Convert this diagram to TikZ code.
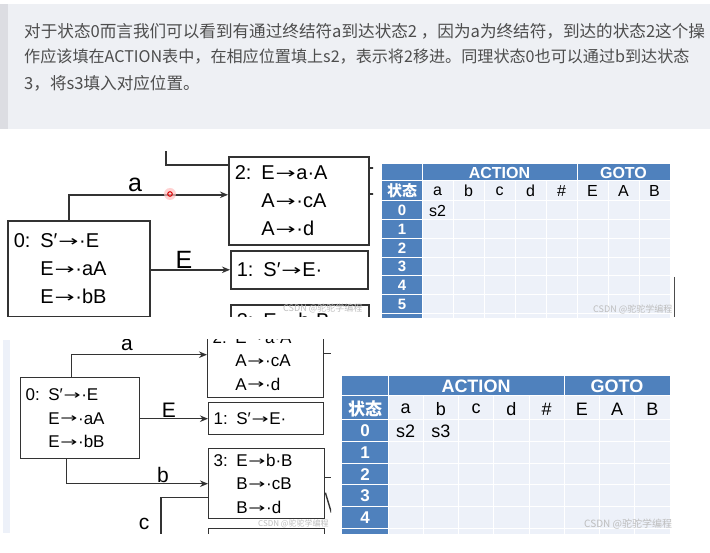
\documentclass[tikz,border=0pt]{standalone}
\usepackage{fontspec}
\setmainfont{Liberation Sans}
\newfontfamily\cjk{Noto Sans CJK SC}
\newfontfamily\arrowfont{DejaVu Sans}
\usepackage{xcolor}
\usetikzlibrary{arrows.meta, positioning}

\definecolor{pagebg}{HTML}{EEF0F4}
\definecolor{quotebar}{HTML}{DCDDE2}
\definecolor{bodytext}{HTML}{4D4D4D}
\definecolor{tblue}{HTML}{4F81BD}
\definecolor{tcell}{HTML}{EDF1F9}
\definecolor{wmark}{HTML}{BDBDBD}
\definecolor{lineclr}{HTML}{333333}

% production arrow, long with a small head
\newcommand\goesto{\kern0.04em\raisebox{0.07em}{\scalebox{1.2}[0.75]{\arrowfont →}}\kern0.04em}

\begin{document}
\begin{tikzpicture}[
    x=1pt, y=-1pt,
    itemset/.style={
        draw=lineclr, rectangle, anchor=north west,
        align=left, inner ysep=0pt
    },
    bigset/.style={itemset, line width=1.6pt, inner xsep=6pt,
        font=\fontsize{20}{28}\selectfont},
    smallset/.style={itemset, line width=1.4pt, inner xsep=5pt,
        font=\fontsize{17}{23.5}\selectfont},
    arrow/.style={draw=lineclr, -{Stealth[length=8pt, width=6.5pt]}},
    link/.style={draw=lineclr},
    biglabel/.style={inner sep=0pt, font=\fontsize{25}{25}\selectfont},
    smalllabel/.style={inner sep=0pt, font=\fontsize{21}{21}\selectfont},
    headtxt/.style={inner sep=0pt, text=white, font=\bfseries\fontsize{16}{16}\selectfont},
    headtxtb/.style={inner sep=0pt, text=white, font=\bfseries\fontsize{18}{18}\selectfont},
    celltxt/.style={inner sep=0pt, font=\fontsize{16}{16}\selectfont},
    celltxtb/.style={inner sep=0pt, font=\fontsize{18}{18}\selectfont},
    wm/.style={inner sep=0pt, anchor=west, text=wmark},
    bodyline/.style={inner sep=0pt, anchor=west, text=bodytext,
        font=\cjk\fontsize{16.6}{26}\selectfont}
]
\useasboundingbox (0,0) rectangle (710,553);
\fill[white] (0,0) rectangle (710,553);

% --- quoted paragraph on top
\fill[pagebg] (0,4) rectangle (710,129);
\fill[quotebar] (0,4) rectangle (8,129);
\node (p1) [bodyline] at (24,31) {对于状态0而言我们可以看到有通过终结符a到达状态2 ，因为a为终结符，到达的状态2这个操};
\node (p2) [bodyline, font=\cjk\fontsize{16.1}{26}\selectfont] at (24,57) {作应该填在ACTION表中，在相应位置填上s2，表示将2移进。同理状态0也可以通过b到达状态};
\node (p3) [bodyline] at (24,83) {3，将s3填入对应位置。};

% --- first shot: item sets
\begin{scope}
\clip (0,152) rectangle (373,317);
\node (s0) [bigset, text width=130pt, minimum height=96pt] at (7,220)
    {\makebox[1.33em][l]{0:}S′\goesto·E\\ \hspace*{1.33em}E\goesto·aA\\ \hspace*{1.33em}E\goesto·bB};
\node (s2) [bigset, text width=128pt, minimum height=88pt] at (228,156)
    {\makebox[1.33em][l]{2:}E\goesto a·A\\ \hspace*{1.33em}A\goesto·cA\\ \hspace*{1.33em}A\goesto·d};
\node (s1) [bigset, text width=125pt, minimum height=38pt] at (230,250)
    {1: S′\goesto E·};
\node (s3) [bigset, text width=126pt, minimum height=88pt] at (230,304)
    {\makebox[1.33em][l]{3:}E\goesto b·B\\ \hspace*{1.33em}B\goesto·cB\\ \hspace*{1.33em}B\goesto·d};
\coordinate (top2) at (166,148);

\begin{scope}[line width=1.6pt]
\draw [arrow] ([xshift=-10pt]s0.north) |- ([yshift=6pt]s2.west);
\draw [arrow] (s0.east |- s1.west) -- (s1.west);
\draw [link]  (top2) |- ([yshift=36pt]s2.west);
\draw [link]  ([yshift=33pt]s2.east) -- ++(6,0);
\draw [link]  ([yshift=7pt]s2.east) -- ++(6,0);
\end{scope}
\node (la1) [biglabel] at (135,185) {a};
\node (lE1) [biglabel] at (184,260) {E};

% mouse pointer mark
\fill[red!25, opacity=0.7] (170,194) circle (6);
\draw[red!85!black, line width=1pt] (170,194) circle (2.3);

\node (wm1) [wm, font=\cjk\fontsize{9}{9}\selectfont] at (283,308) {CSDN @驼驼学编程};
\end{scope}

% --- first shot: table
\begin{scope}
\clip (380,160) rectangle (677,318);
\fill[tblue] (382,164) rectangle (670,181);
\fill[tblue] (382,181) rectangle (422,330);
\fill[tcell] (422,181) rectangle (670,330);
\foreach \r in {0,...,6} {
    \draw[white, line width=1pt] (382,201+18.7*\r) -- (670,201+18.7*\r);
}
\draw[white, line width=1pt] (382,181) -- (670,181);
\draw[white, line width=1pt] (422,164) -- (422,330);
\draw[white, line width=1pt] (577,164) -- (577,181);
\foreach \k in {1,...,7} {
    \draw[white, line width=0.8pt] (422+31*\k,181) -- (422+31*\k,330);
}
\node (act1) [headtxt] at (499.5,173) {ACTION};
\node (go1)  [headtxt] at (623.5,173) {GOTO};
\node (st1)  [headtxt, font=\cjk\bfseries\fontsize{15}{15}\selectfont] at (402,191) {状态};
\foreach \t [count=\k from 0] in {a,b,c,d,\#,E,A,B} {
    \node (c1-\k) [celltxt] at (437.5+31*\k,191) {\t};
}
\foreach \r in {0,...,5} {
    \node (r1-\r) [headtxt, font=\bfseries\fontsize{15}{15}\selectfont] at (402,210.5+18.7*\r) {\r};
}
\node (e1-a) [celltxt] at (437.5,211) {s2};
\node (wm2) [wm, font=\cjk\fontsize{9}{9}\selectfont] at (593,309) {CSDN @驼驼学编程};
\draw[gray!60!black, line width=0.8pt] (674.5,277) -- (674.5,317);
\end{scope}

% --- second shot: item sets
\fill[tcell] (3,340) rectangle (10,533);
\begin{scope}
\clip (0,340) rectangle (331,533);
\node (t0) [smallset, text width=109pt, minimum height=81pt] at (20,377)
    {\makebox[1.33em][l]{0:}S′\goesto·E\\ \hspace*{1.33em}E\goesto·aA\\ \hspace*{1.33em}E\goesto·bB};
\node (t2) [smallset, text width=106pt, minimum height=74pt] at (207,323)
    {\makebox[1.33em][l]{2:}E\goesto a·A\\ \hspace*{1.33em}A\goesto·cA\\ \hspace*{1.33em}A\goesto·d};
\node (t1) [smallset, text width=105pt, minimum height=32pt] at (208,402)
    {1: S′\goesto E·};
\node (t3) [smallset, text width=106pt, minimum height=70pt] at (208,448)
    {\makebox[1.33em][l]{3:}E\goesto b·B\\ \hspace*{1.33em}B\goesto·cB\\ \hspace*{1.33em}B\goesto·d};
\node (t4) [smallset, text width=106pt, minimum height=70pt] at (208,528) {};
\coordinate (low3) at (161,537);

\begin{scope}[line width=1.4pt]
\draw [arrow] ([xshift=-8.5pt]t0.north) |- ([yshift=6pt]t2.west);
\draw [arrow] (t0.east |- t1.west) -- (t1.west);
\draw [arrow] ([xshift=-13.5pt]t0.south) |- (t3.west);
\draw [link]  ([yshift=-14pt]t3.west) -| (low3);
\draw [link]  ([yshift=7pt]t2.east) -- ++(7,0);
\draw [link]  ([yshift=6pt]t3.east) -- ++(6,0);
\draw [link]  ([yshift=-9pt]t3.east) -- ++(6,20);
\end{scope}
\node (la2) [smalllabel] at (127,345) {a};
\node (lE2) [smalllabel] at (169,410) {E};
\node (lb2) [smalllabel] at (163,475) {b};
\node (lc2) [smalllabel] at (144,524) {c};
\node (wm3) [wm, font=\cjk\fontsize{8}{8}\selectfont] at (258,524) {CSDN @驼驼学编程};
\end{scope}

% --- second shot: table
\begin{scope}
\clip (340,372) rectangle (677,533);
\fill[tblue] (342,376) rectangle (670,396);
\fill[tblue] (342,396) rectangle (388,545);
\fill[tcell] (388,396) rectangle (670,545);
\foreach \r in {0,...,5} {
    \draw[white, line width=1pt] (342,420+21.6*\r) -- (670,420+21.6*\r);
}
\draw[white, line width=1pt] (342,396) -- (670,396);
\draw[white, line width=1pt] (388,376) -- (388,545);
\draw[white, line width=1pt] (564.25,376) -- (564.25,396);
\foreach \k in {1,...,7} {
    \draw[white, line width=0.8pt] (388+35.25*\k,396) -- (388+35.25*\k,545);
}
\node (act2) [headtxtb] at (476,386.5) {ACTION};
\node (go2)  [headtxtb] at (617,386.5) {GOTO};
\node (st2)  [headtxtb, font=\cjk\bfseries\fontsize{17}{17}\selectfont] at (365,409) {状态};
\foreach \t [count=\k from 0] in {a,b,c,d,\#,E,A,B} {
    \node (c2-\k) [celltxtb] at (405.6+35.25*\k,409) {\t};
}
\foreach \r in {0,...,4} {
    \node (r2-\r) [headtxtb, font=\bfseries\fontsize{17}{17}\selectfont] at (365,431+21.6*\r) {\r};
}
\node (e2-a) [celltxtb] at (405.6,431) {s2};
\node (e2-b) [celltxtb] at (440.9,431) {s3};
\node (wm4) [wm, font=\cjk\fontsize{10}{10}\selectfont] at (584,524) {CSDN @驼驼学编程};
\end{scope}

\end{tikzpicture}
\end{document}
